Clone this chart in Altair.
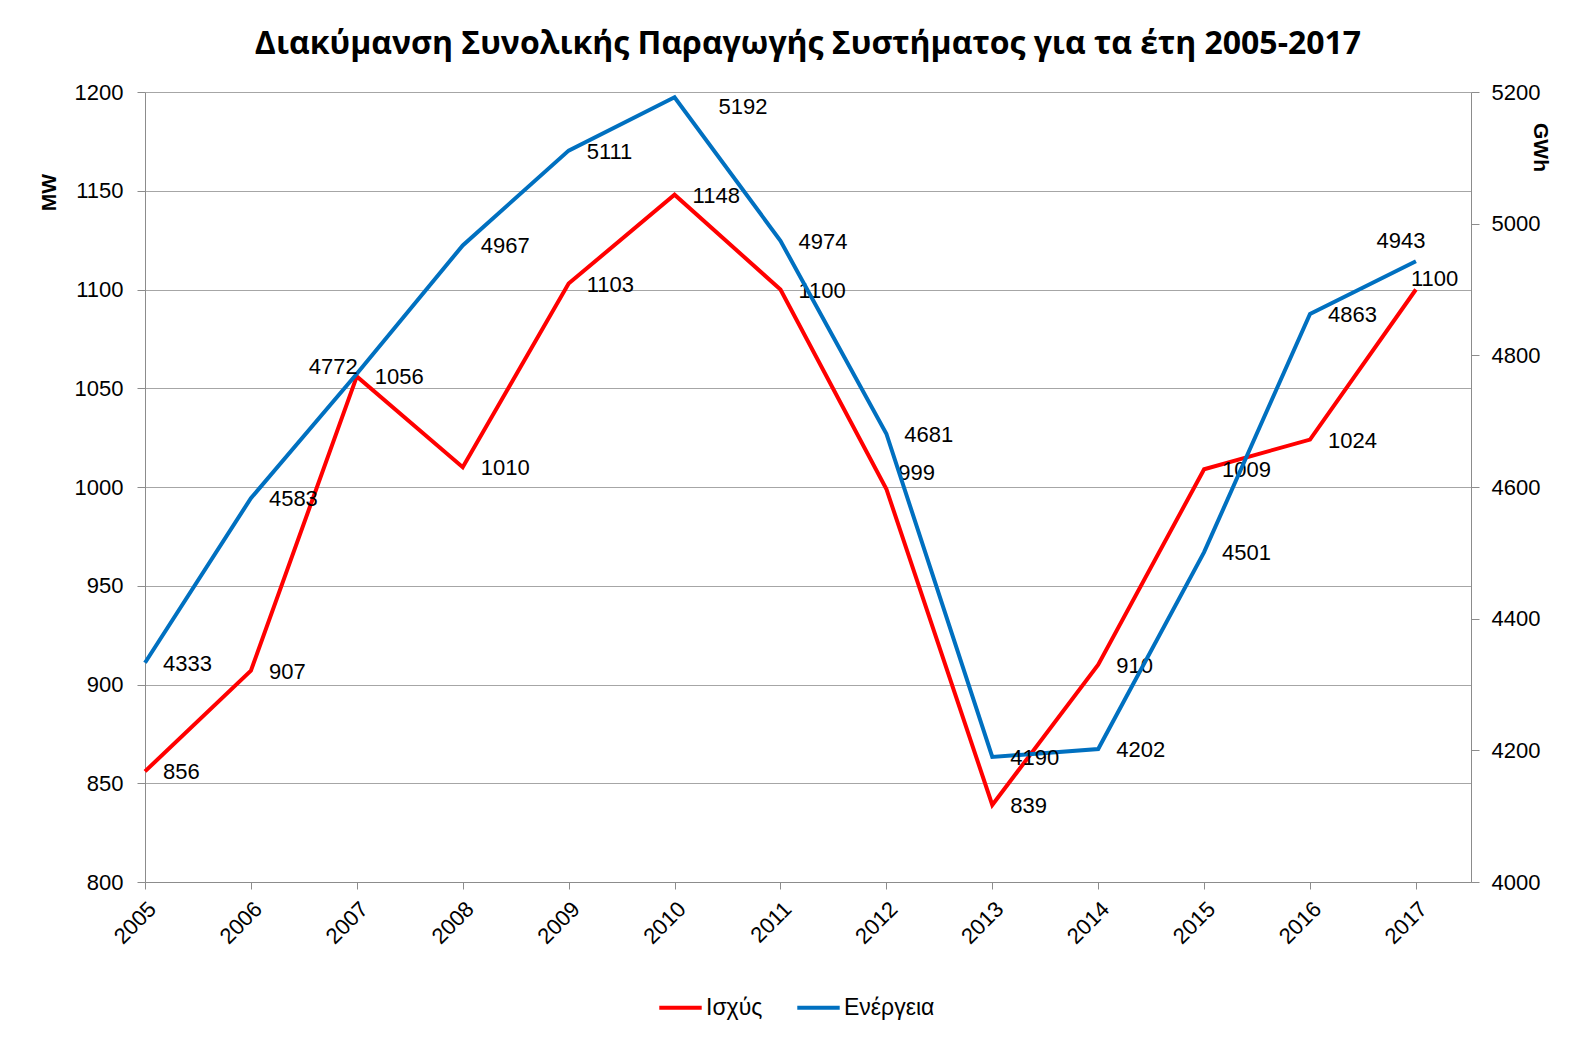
import altair as alt
import pandas as pd

years = [2005, 2006, 2007, 2008, 2009, 2010, 2011, 2012, 2013, 2014, 2015, 2016, 2017]
power_mw = [856, 907, 1056, 1010, 1103, 1148, 1100, 999, 839, 910, 1009, 1024, 1100]
energy_gwh = [4333, 4583, 4772, 4967, 5111, 5192, 4974, 4681, 4190, 4202, 4501, 4863, 4943]
series_names = ["Ισχύς", "Ενέργεια"]
series_colors = ["#FF0000", "#0070C0"]
mw_ticks = [800, 850, 900, 950, 1000, 1050, 1100, 1150, 1200]
gwh_ticks = [4000, 4200, 4400, 4600, 4800, 5000, 5200]

df = pd.DataFrame({"year": years, "mw": power_mw, "gwh": energy_gwh})

FONT = "Liberation Sans"
LABEL_SIZE = 22

x_enc = alt.X(
    "year:Q",
    scale=alt.Scale(domain=[2005, 2017.52], nice=False, zero=False),
    axis=alt.Axis(
        values=years, format="d", title=None, grid=False,
        labelAngle=-45, labelAlign="right", labelBaseline="top",
        labelPadding=9, tickSize=7, labelFontSize=LABEL_SIZE,
        labelFont=FONT, labelColor="#000000",
        domainColor="#8C8C8C", tickColor="#8C8C8C",
        labelOverlap=False,
    ),
)

y_left = alt.Y(
    "mw:Q",
    scale=alt.Scale(domain=[800, 1200], nice=False, zero=False),
    axis=alt.Axis(
        orient="left", values=mw_ticks, format="d", title="MW", grid=True,
        gridColor="#A6A6A6", gridWidth=1,
        domainColor="#8C8C8C", tickColor="#8C8C8C", tickSize=8,
        labelPadding=14, labelFontSize=LABEL_SIZE, labelFont=FONT,
        labelColor="#000000",
        titleFont=FONT, titleFontSize=21, titleFontWeight="bold",
        titleAngle=-90, titleAlign="center", titleBaseline="middle",
        titleX=-96, titleY=100, titleColor="#000000",
    ),
)

y_right = alt.Y(
    "gwh:Q",
    scale=alt.Scale(domain=[4000, 5200], nice=False, zero=False),
    axis=alt.Axis(
        orient="right", values=gwh_ticks, format="d", title="GWh", grid=False,
        domainColor="#8C8C8C", tickColor="#8C8C8C", tickSize=8,
        labelPadding=12, labelFontSize=LABEL_SIZE, labelFont=FONT,
        labelColor="#000000",
        titleFont=FONT, titleFontSize=21, titleFontWeight="bold",
        titleAngle=90, titleAlign="center", titleBaseline="middle",
        titleX=68, titleY=55, titleColor="#000000",
    ),
)

color_enc = alt.Color(
    "series:N",
    scale=alt.Scale(domain=series_names, range=series_colors),
    legend=alt.Legend(
        title=None, orient="none", direction="horizontal",
        legendX=512, legendY=892,
        symbolType="stroke", symbolSize=1800, symbolStrokeWidth=4,
        labelFont=FONT, labelFontSize=23, labelColor="#000000",
        columnPadding=26, labelOffset=2,
    ),
)

base = alt.Chart(df)


def labels(field, y, default_excl, exceptions):
    layers = []
    cond = " && ".join([f"datum.year != {e}" for e in default_excl]) or "true"
    layers.append(
        base.transform_filter(cond)
        .mark_text(align="left", baseline="middle", dx=18, dy=1,
                   font=FONT, fontSize=LABEL_SIZE, color="#000000")
        .encode(x=x_enc, y=y, text=alt.Text(f"{field}:Q", format="d"))
    )
    for yr, opts in exceptions:
        layers.append(
            base.transform_filter(f"datum.year == {yr}")
            .mark_text(baseline="middle", font=FONT, fontSize=LABEL_SIZE,
                       color="#000000", **opts)
            .encode(x=x_enc, y=y, text=alt.Text(f"{field}:Q", format="d"))
        )
    return layers


red_line = (
    base.transform_calculate(series="'Ισχύς'")
    .mark_line(strokeWidth=4)
    .encode(x=x_enc, y=y_left, color=color_enc)
)
red_labels = labels(
    "mw", y_left, [2012, 2017],
    [(2012, dict(align="left", dx=12, dy=-16)),
     (2017, dict(align="left", dx=-5, dy=-11))],
)

blue_line = (
    base.transform_calculate(series="'Ενέργεια'")
    .mark_line(strokeWidth=4)
    .encode(x=x_enc, y=y_right, color=color_enc)
)
blue_labels = labels(
    "gwh", y_right, [2007, 2010, 2017],
    [(2007, dict(align="right", dx=1, dy=-7)),
     (2010, dict(align="left", dx=44, dy=10)),
     (2017, dict(align="center", dx=-15, dy=-20))],
)

left = alt.layer(red_line, *red_labels)
right = alt.layer(blue_line, *blue_labels)

chart = (
    alt.layer(left, right)
    .resolve_scale(y="independent")
    .properties(
        width=1326, height=790,
        title=alt.TitleParams(
            "Διακύμανση Συνολικής Παραγωγής Συστήματος για τα έτη 2005-2017",
            font="Open Sans", fontSize=32, fontWeight="bold",
            color="#000000", anchor="middle", offset=20,
        ),
        padding={"left": 30, "top": 20, "right": 5, "bottom": 5},
        background="white",
    )
    .configure_view(stroke=None)
)

chart.save("out.html", embed_options={"renderer": "svg", "actions": False})
